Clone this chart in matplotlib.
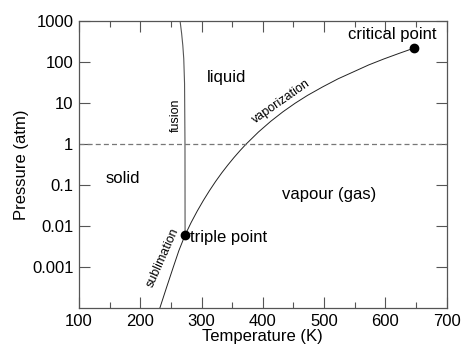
import numpy as np
import matplotlib.pyplot as plt
from matplotlib.ticker import FixedLocator, NullLocator

plt.rcParams['font.family'] = ['Liberation Sans', 'DejaVu Sans']

# phase boundaries of water (T in K, p in atm)
fusion_T = [273.16, 273.0, 272.3, 271.0, 269.5, 267.5, 265.0]
fusion_p = [0.006, 1.0, 30.0, 120.0, 250.0, 500.0, 1000.0]

vap_T = [273.16, 283, 293, 303, 313, 323, 333, 343, 353, 363, 373,
         393, 413, 433, 453, 473, 498, 523, 548, 573, 598, 623, 647]
vap_p = [0.006, 0.0121, 0.0231, 0.0419, 0.0728, 0.122, 0.197, 0.307,
         0.467, 0.692, 1.0, 1.96, 3.57, 6.11, 9.9, 15.3, 24.8, 38.9,
         57.4, 84.8, 119.0, 163.0, 218.0]

sub_T = [232.0, 243.0, 254.0, 263.0, 273.16]
sub_p = [1e-4, 3.2e-4, 1e-3, 2.5e-3, 0.006]

triple = (273.16, 0.006)
critical = (647.0, 218.0)

fig = plt.figure(figsize=(4.64, 3.44), dpi=100)
ax = fig.add_axes([0.1703, 0.1047, 0.7920, 0.8343])

ax.plot(fusion_T, fusion_p, color='#555555', lw=0.8)
ax.plot(vap_T, vap_p, color='#222222', lw=0.7)
ax.plot(sub_T, sub_p, color='#222222', lw=0.7)
ax.axhline(1.0, color='#777777', lw=0.9, ls=(0, (4, 2.5)))

ax.plot(*triple, 'o', color='black', ms=6)
ax.plot(*critical, 'o', color='black', ms=6)

ax.set_yscale('log')
ax.set_xlim(100, 700)
ax.set_ylim(1e-4, 1000)

ax.xaxis.set_major_locator(FixedLocator([100, 200, 300, 400, 500, 600, 700]))
ax.xaxis.set_minor_locator(FixedLocator([150, 250, 350, 450, 550, 650]))
ax.yaxis.set_major_locator(FixedLocator([1e-3, 1e-2, 1e-1, 1, 10, 100, 1000]))
ax.yaxis.set_minor_locator(NullLocator())
ax.set_yticklabels(['0.001', '0.01', '0.1', '1', '10', '100', '1000'])
ax.tick_params(which='both', direction='in', top=True, right=True,
               labelsize=12, color='#555555', pad=4)
ax.tick_params(which='major', length=8, width=0.8)
ax.tick_params(which='minor', length=4, width=0.8)
for s in ax.spines.values():
    s.set_color('#555555')
    s.set_linewidth(0.9)

ax.set_xlabel('Temperature (K)', fontsize=12, labelpad=0)
ax.set_ylabel('Pressure (atm)', fontsize=12, labelpad=2)

ax.text(611, 456, 'critical point', fontsize=12, ha='center', va='center')
ax.text(308, 41, 'liquid', fontsize=12, ha='left', va='center')
ax.text(144, 0.14, 'solid', fontsize=12, ha='left', va='center')
ax.text(431, 0.057, 'vapour (gas)', fontsize=12, ha='left', va='center')
ax.text(281, 0.0052, 'triple point', fontsize=12, ha='left', va='center')
ax.text(258, 5.1, 'fusion', fontsize=9, rotation=90, ha='center', va='center')
ax.text(430, 10.6, 'vaporization', fontsize=9, rotation=35, ha='center', va='center')
ax.text(237, 0.00166, 'sublimation', fontsize=9, rotation=66, ha='center', va='center')

fig.savefig('out.png', dpi=100)
